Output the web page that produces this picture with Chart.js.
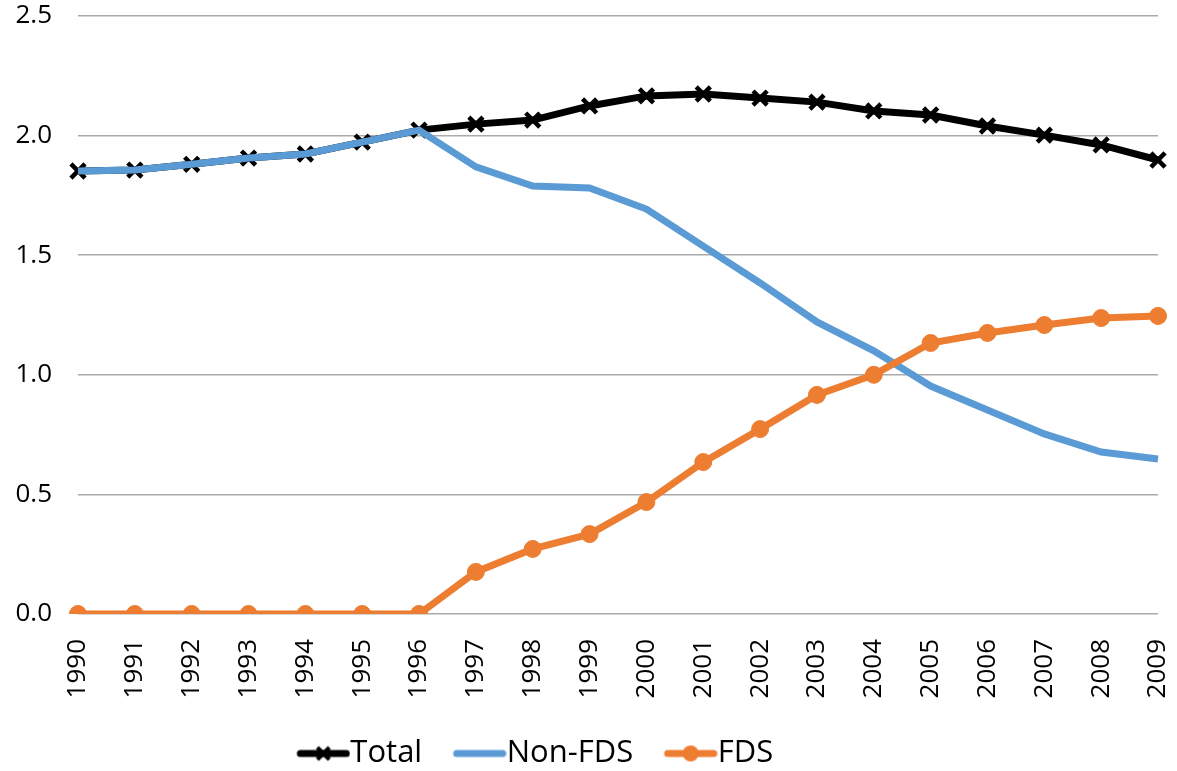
<!DOCTYPE html>
<html>
<head>
<meta charset="utf-8">
<script src="https://cdn.jsdelivr.net/npm/chart.js@4"></script>
<style>
  html, body { margin: 0; padding: 0; background: #fff; }
  #wrap { width: 1177px; height: 771px; }
</style>
</head>
<body>
<div id="wrap"><canvas id="grafico"></canvas></div>
<script>
const years = ["1990", "1991", "1992", "1993", "1994", "1995", "1996", "1997", "1998", "1999",
               "2000", "2001", "2002", "2003", "2004", "2005", "2006", "2007", "2008", "2009"];
const totalValues = [1.852, 1.856, 1.88, 1.906, 1.923, 1.973, 2.023, 2.048, 2.065, 2.124,
                     2.166, 2.174, 2.157, 2.14, 2.103, 2.086, 2.04, 2.002, 1.961, 1.898];
const nonFdsValues = [1.852, 1.856, 1.88, 1.906, 1.923, 1.973, 2.023, 1.869, 1.789, 1.781,
                      1.693, 1.538, 1.384, 1.221, 1.1, 0.953, 0.853, 0.753, 0.677, 0.648];
const fdsValues = [0, 0, 0, 0, 0, 0, 0, 0.176, 0.272, 0.334,
                   0.468, 0.635, 0.773, 0.916, 1.0, 1.133, 1.175, 1.208, 1.237, 1.246];
const yTicks = [0, 0.5, 1, 1.5, 2, 2.5];

const fontFam = "'Open Sans', sans-serif";

// legend symbol: line + marker, drawn at the right side of a wider transparent image
// so it sits right next to the label text
function legendIcon(color, marker) {
    const c = document.createElement("canvas");
    c.width = 90; c.height = 20;
    const g = c.getContext("2d");
    const x0 = 36, x1 = 90;
    g.strokeStyle = color;
    g.lineWidth = 7;
    g.lineCap = "round";
    g.beginPath(); g.moveTo(x0 + 4, 10); g.lineTo(x1 - 4, 10); g.stroke();
    const cx = (x0 + x1) / 2;
    if (marker === "x") {
        g.lineWidth = 4; g.lineCap = "butt";
        g.beginPath();
        g.moveTo(cx - 6, 4); g.lineTo(cx + 6, 16);
        g.moveTo(cx + 6, 4); g.lineTo(cx - 6, 16);
        g.stroke();
    } else if (marker === "o") {
        g.fillStyle = color;
        g.beginPath(); g.arc(cx, 10, 8, 0, Math.PI * 2); g.fill();
    }
    return c;
}

// nudge the legend to the left, like the original
const legendShift = {
    id: "legendShift",
    afterLayout(chart) {
        chart.legend.left -= 64;
        chart.legend.right -= 64;
    }
};

new Chart(document.getElementById("grafico"), {
    type: "line",
    data: {
        labels: years,
        datasets: [{
            label: "Total",
            data: totalValues,
            borderColor: "#000000",
            backgroundColor: "#000000",
            borderWidth: 7,
            pointStyle: "crossRot",
            pointRadius: 10,
            pointBorderWidth: 4.5,
            pointBorderColor: "#000000",
            order: 3,
            icon: legendIcon("#000000", "x")
        }, {
            label: "Non-FDS",
            data: nonFdsValues,
            borderColor: "#5b9bd5",
            backgroundColor: "#5b9bd5",
            borderWidth: 7,
            pointRadius: 0,
            order: 2,
            icon: legendIcon("#5b9bd5", "")
        }, {
            label: "FDS",
            data: fdsValues,
            borderColor: "#ed7d31",
            backgroundColor: "#ed7d31",
            borderWidth: 7,
            pointStyle: "circle",
            pointRadius: 8.5,
            pointBorderWidth: 1,
            order: 1,
            icon: legendIcon("#ed7d31", "o")
        }]
    },
    options: {
        responsive: true,
        maintainAspectRatio: false,
        animation: false,
        layout: { padding: { left: 0, right: 0, top: 0, bottom: -8 } },
        plugins: {
            tooltip: { enabled: false },
            legend: {
                position: "bottom",
                labels: {
                    usePointStyle: true,
                    pointStyleWidth: 59,
                    padding: 10,
                    color: "#000",
                    font: { family: fontFam, size: 31 },
                    generateLabels: chart => chart.data.datasets.map((ds, i) => ({
                        text: ds.label,
                        pointStyle: ds.icon,
                        fillStyle: ds.borderColor,
                        strokeStyle: ds.borderColor,
                        lineWidth: 0,
                        fontColor: "#000",
                        datasetIndex: i,
                        hidden: false
                    }))
                }
            }
        },
        scales: {
            x: {
                grid: { display: false },
                border: { display: false },
                ticks: {
                    color: "#000",
                    minRotation: 90,
                    maxRotation: 90,
                    padding: 17,
                    font: { family: fontFam, size: 26 }
                },
                afterFit: s => {
                    s.height = 114;
                    s.paddingLeft = 0;
                    s.paddingRight = 19;
                }
            },
            y: {
                min: 0,
                max: 2.5,
                afterBuildTicks: s => { s.ticks = yTicks.map(v => ({ value: v })); },
                grid: { color: "#aaaaaa", lineWidth: 1.5, drawTicks: false },
                border: { display: false },
                ticks: {
                    color: "#000",
                    padding: 26,
                    font: { family: fontFam, size: 26 },
                    callback: v => v.toFixed(1)
                },
                afterFit: s => {
                    s.width = 78;
                    s.paddingTop = 16;
                    s.paddingBottom = 0;
                }
            }
        }
    },
    plugins: [legendShift]
});
</script>
</body>
</html>
